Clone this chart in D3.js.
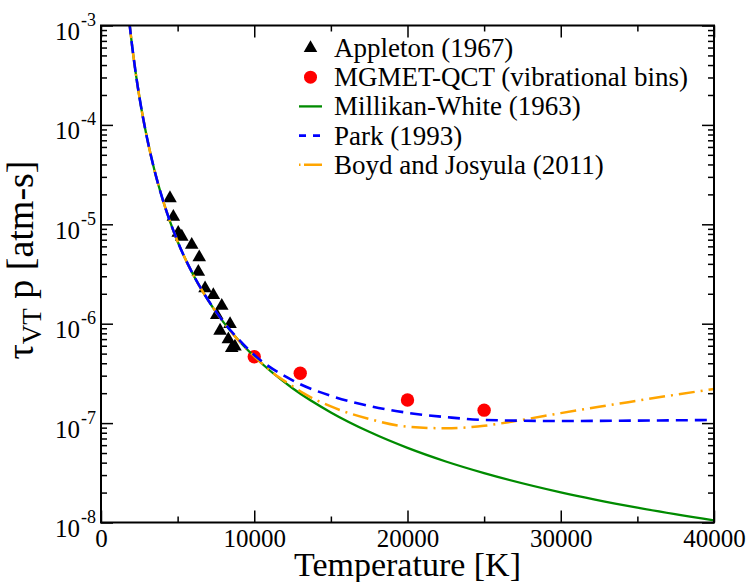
<!DOCTYPE html>
<html>
<head>
<meta charset="utf-8">
<script src="https://cdn.jsdelivr.net/npm/d3@7"></script>
<style>
  body { margin: 0; background: #fff; }
  svg { display: block; }
</style>
</head>
<body>
<div id="chart"></div>
<script>
// ---- data ----
// Appleton (1967) shock-tube points
const appletonT   = [4500, 4720, 5040, 5270, 5920, 6410, 6350, 6790, 7330, 7880, 7550, 8420, 7770, 8310, 8740, 8530];
const appletonTau = [1.83e-5, 1.19e-5, 8.2e-6, 7.5e-6, 6.2e-6, 4.66e-6, 3.33e-6, 2.27e-6, 1.94e-6, 1.51e-6,
                     1.22e-6, 9.9e-7, 8.5e-7, 6.97e-7, 5.88e-7, 5.67e-7];

// MGMET-QCT (vibrational bins)
const qctT   = [10000, 13000, 20000, 25000];
const qctTau = [4.65e-7, 3.17e-7, 1.71e-7, 1.35e-7];

// Millikan-White (1963)
const mwT   = [1850, 2000, 2250, 2500, 2750, 3000, 3500, 4000, 4500, 5000, 6000, 7000, 8000, 9000, 10000,
               12500, 15000, 17500, 20000, 22500, 25000, 30000, 35000, 40000];
const mwTau = [1.08e-3, 6.8e-4, 3.46e-4, 1.93e-4, 1.165e-4, 7.43e-5, 3.44e-5, 1.83e-5, 1.07e-5, 6.72e-6, 3.14e-6,
               1.71e-6, 1.03e-6, 6.74e-7, 4.68e-7, 2.24e-7, 1.28e-7, 8.17e-8, 5.63e-8, 4.11e-8, 3.14e-8,
               2.01e-8, 1.41e-8, 1.05e-8];

// Park (1993)
const parkT   = [1850, 2000, 2250, 2500, 2750, 3000, 3500, 4000, 4500, 5000, 6000, 7000, 8000, 9000, 10000,
                 12500, 15000, 17500, 20000, 22500, 25000, 30000, 35000, 40000];
const parkTau = [1.08e-3, 6.8e-4, 3.46e-4, 1.93e-4, 1.165e-4, 7.43e-5, 3.44e-5, 1.83e-5, 1.07e-5, 6.73e-6, 3.15e-6,
                 1.72e-6, 1.04e-6, 6.9e-7, 4.85e-7, 2.69e-7, 1.88e-7, 1.49e-7, 1.27e-7, 1.15e-7, 1.075e-7,
                 1.05e-7, 1.06e-7, 1.075e-7];

// Boyd and Josyula (2011)
const boydT   = [1850, 2000, 2250, 2500, 2750, 3000, 3500, 4000, 4500, 5000, 6000, 7000, 8000, 9000, 10000,
                 11250, 12500, 13200, 15000, 17500, 20000, 22500, 25000, 27500, 30000, 32500, 35000, 37500, 40000];
const boydTau = [1.08e-3, 6.8e-4, 3.46e-4, 1.93e-4, 1.165e-4, 7.43e-5, 3.44e-5, 1.83e-5, 1.07e-5, 6.72e-6, 3.14e-6,
                 1.71e-6, 1.03e-6, 6.7e-7, 4.7e-7, 3.17e-7, 2.35e-7, 2.0e-7, 1.47e-7, 1.1e-7, 9.2e-8, 8.87e-8,
                 9.4e-8, 1.08e-7, 1.26e-7, 1.46e-7, 1.68e-7, 1.93e-7, 2.2e-7];

// ticks
const xMajor = [0, 10000, 20000, 30000, 40000];
const xMinor = [5000, 15000, 25000, 35000];
const yDecades = [-8, -7, -6, -5, -4, -3];

const legendLabels = ["Appleton (1967)", "MGMET-QCT (vibrational bins)", "Millikan-White (1963)",
                      "Park (1993)", "Boyd and Josyula (2011)"];

// ---- constants ----
const C = {
  width: 748,
  height: 582,
  margin: {left: 101, top: 25.5, right: 34, bottom: 59.5},
  font: '"Liberation Serif", "Times New Roman", serif',
  green: '#008b00',
  blue: '#0000ff',
  orange: '#ffa500',
  red: '#ff0000',
  tick_major: 12,
  tick_minor: 6,
};

const svg = d3.select('#chart').append('svg')
  .attr('width', C.width)
  .attr('height', C.height);

const X = d3.scaleLinear()
  .domain([0, 40000])
  .range([C.margin.left, C.width - C.margin.right]);

const Y = d3.scaleLog()
  .domain([1e-8, 1e-3])
  .range([C.height - C.margin.bottom, C.margin.top]);

const yMajor = yDecades.map(e => Math.pow(10, e));
// minor ticks 2..9 in each decade
const yMinor = [];
yDecades.slice(0, -1).forEach(e => {
  for (let k = 2; k <= 9; k++) yMinor.push(k * Math.pow(10, e));
});

svg.append('clipPath').attr('id', 'plot-clip')
  .append('rect')
  .attr('x', X.range()[0]).attr('y', Y.range()[1])
  .attr('width', X.range()[1] - X.range()[0])
  .attr('height', Y.range()[0] - Y.range()[1]);

const plot = svg.append('g').attr('clip-path', 'url(#plot-clip)');

// markers first, lines drawn on top (as in the original)
plot.selectAll('path.appleton')
  .data(appletonT.map((t, i) => [t, appletonTau[i]]))
  .join('path')
  .attr('class', 'appleton')
  .attr('d', d3.symbol(d3.symbolTriangle, 80))
  .attr('transform', d => `translate(${X(d[0])},${Y(d[1])})`)
  .attr('fill', '#000');

plot.selectAll('circle.qct')
  .data(qctT.map((t, i) => [t, qctTau[i]]))
  .join('circle')
  .attr('class', 'qct')
  .attr('cx', d => X(d[0]))
  .attr('cy', d => Y(d[1]))
  .attr('r', 6.7)
  .attr('fill', C.red);

const line = d3.line()
  .x(d => X(d[0]))
  .y(d => Y(d[1]))
  .curve(d3.curveMonotoneX);

const series = [
  {T: mwT, tau: mwTau, color: C.green, width: 2.3, dash: null},
  {T: boydT, tau: boydTau, color: C.orange, width: 2.5, dash: '16,6,2,6'},
  {T: parkT, tau: parkTau, color: C.blue, width: 2.6, dash: '12,7'},
];

series.forEach(s => {
  plot.append('path')
    .datum(s.T.map((t, i) => [t, s.tau[i]]))
    .attr('d', line)
    .attr('fill', 'none')
    .attr('stroke', s.color)
    .attr('stroke-width', s.width)
    .attr('stroke-dasharray', s.dash);
});

// ---- axes: inward ticks on all four sides ----
const axes = svg.append('g');
const h = C.height - C.margin.bottom;
const w = C.width - C.margin.right;

function tickStyle(g){
  g.select('.domain').remove();
  g.selectAll('line').attr('stroke', '#000').attr('stroke-width', 1.5);
}

axes.append('g').attr('transform', `translate(0,${h})`)
  .call(d3.axisBottom(X).tickValues(xMajor).tickSize(-C.tick_major).tickPadding(7).tickFormat(d3.format('d')))
  .call(tickStyle)
  .call(g => g.selectAll('text').style('font-size', '25px').style('font-family', C.font).attr('fill', '#000'));
axes.append('g').attr('transform', `translate(0,${h})`)
  .call(d3.axisBottom(X).tickValues(xMinor).tickSize(-C.tick_minor).tickFormat(''))
  .call(tickStyle);
axes.append('g').attr('transform', `translate(0,${C.margin.top})`)
  .call(d3.axisTop(X).tickValues(xMajor).tickSize(-C.tick_major).tickFormat(''))
  .call(tickStyle);
axes.append('g').attr('transform', `translate(0,${C.margin.top})`)
  .call(d3.axisTop(X).tickValues(xMinor).tickSize(-C.tick_minor).tickFormat(''))
  .call(tickStyle);

axes.append('g').attr('transform', `translate(${C.margin.left},0)`)
  .call(d3.axisLeft(Y).tickValues(yMajor).tickSize(-C.tick_major).tickFormat(''))
  .call(tickStyle);
axes.append('g').attr('transform', `translate(${C.margin.left},0)`)
  .call(d3.axisLeft(Y).tickValues(yMinor).tickSize(-C.tick_minor).tickFormat(''))
  .call(tickStyle);
axes.append('g').attr('transform', `translate(${w},0)`)
  .call(d3.axisRight(Y).tickValues(yMajor).tickSize(-C.tick_major).tickFormat(''))
  .call(tickStyle);
axes.append('g').attr('transform', `translate(${w},0)`)
  .call(d3.axisRight(Y).tickValues(yMinor).tickSize(-C.tick_minor).tickFormat(''))
  .call(tickStyle);

// frame
svg.append('rect')
  .attr('x', C.margin.left).attr('y', C.margin.top)
  .attr('width', w - C.margin.left).attr('height', h - C.margin.top)
  .attr('fill', 'none').attr('stroke', '#000').attr('stroke-width', 2);

// y tick labels as 10^n
const yLabels = svg.append('g').style('font-family', C.font);
yDecades.forEach(e => {
  const y = Y(Math.pow(10, e));
  yLabels.append('text').attr('x', 80).attr('y', y + 14.5)
    .attr('text-anchor', 'end').style('font-size', '25px').text('10');
  yLabels.append('text').attr('x', 81).attr('y', y + 0.5)
    .style('font-size', '18px').text('-' + (-e));
});

// axis titles
svg.append('text')
  .attr('x', (C.margin.left + w) / 2).attr('y', 576)
  .attr('text-anchor', 'middle')
  .style('font-family', C.font).style('font-size', '34px')
  .text('Temperature [K]');

const ytitle = svg.append('text')
  .attr('transform', 'translate(33,260) rotate(-90)')
  .attr('text-anchor', 'middle')
  .style('font-family', C.font).style('font-size', '38px');
ytitle.append('tspan').text('τ');
ytitle.append('tspan').style('font-size', '27px').attr('dy', 8).text('VT');
ytitle.append('tspan').attr('dy', -8).text(' p [atm-s]');

// ---- legend ----
const legend = svg.append('g').style('font-family', C.font);
const lx = 310.5, tx = 334, ly0 = 48, dy = 29.2;

legendLabels.forEach((lab, i) => {
  legend.append('text').attr('x', tx).attr('y', ly0 + i * dy + 9)
    .style('font-size', '27px').text(lab);
});
legend.append('path').attr('d', d3.symbol(d3.symbolTriangle, 80))
  .attr('transform', `translate(${lx},${ly0})`).attr('fill', '#000');
legend.append('circle').attr('cx', lx).attr('cy', ly0 + dy).attr('r', 6.5).attr('fill', C.red);
legend.append('line').attr('x1', 299).attr('x2', 322).attr('y1', ly0 + 2 * dy).attr('y2', ly0 + 2 * dy)
  .attr('stroke', C.green).attr('stroke-width', 2.3);
legend.append('line').attr('x1', 299).attr('x2', 322).attr('y1', ly0 + 3 * dy).attr('y2', ly0 + 3 * dy)
  .attr('stroke', C.blue).attr('stroke-width', 2.6).attr('stroke-dasharray', '7,7');
legend.append('line').attr('x1', 299).attr('x2', 322).attr('y1', ly0 + 4 * dy).attr('y2', ly0 + 4 * dy)
  .attr('stroke', C.orange).attr('stroke-width', 2.5).attr('stroke-dasharray', '1.5,3.5,18,0');
</script>
</body>
</html>
